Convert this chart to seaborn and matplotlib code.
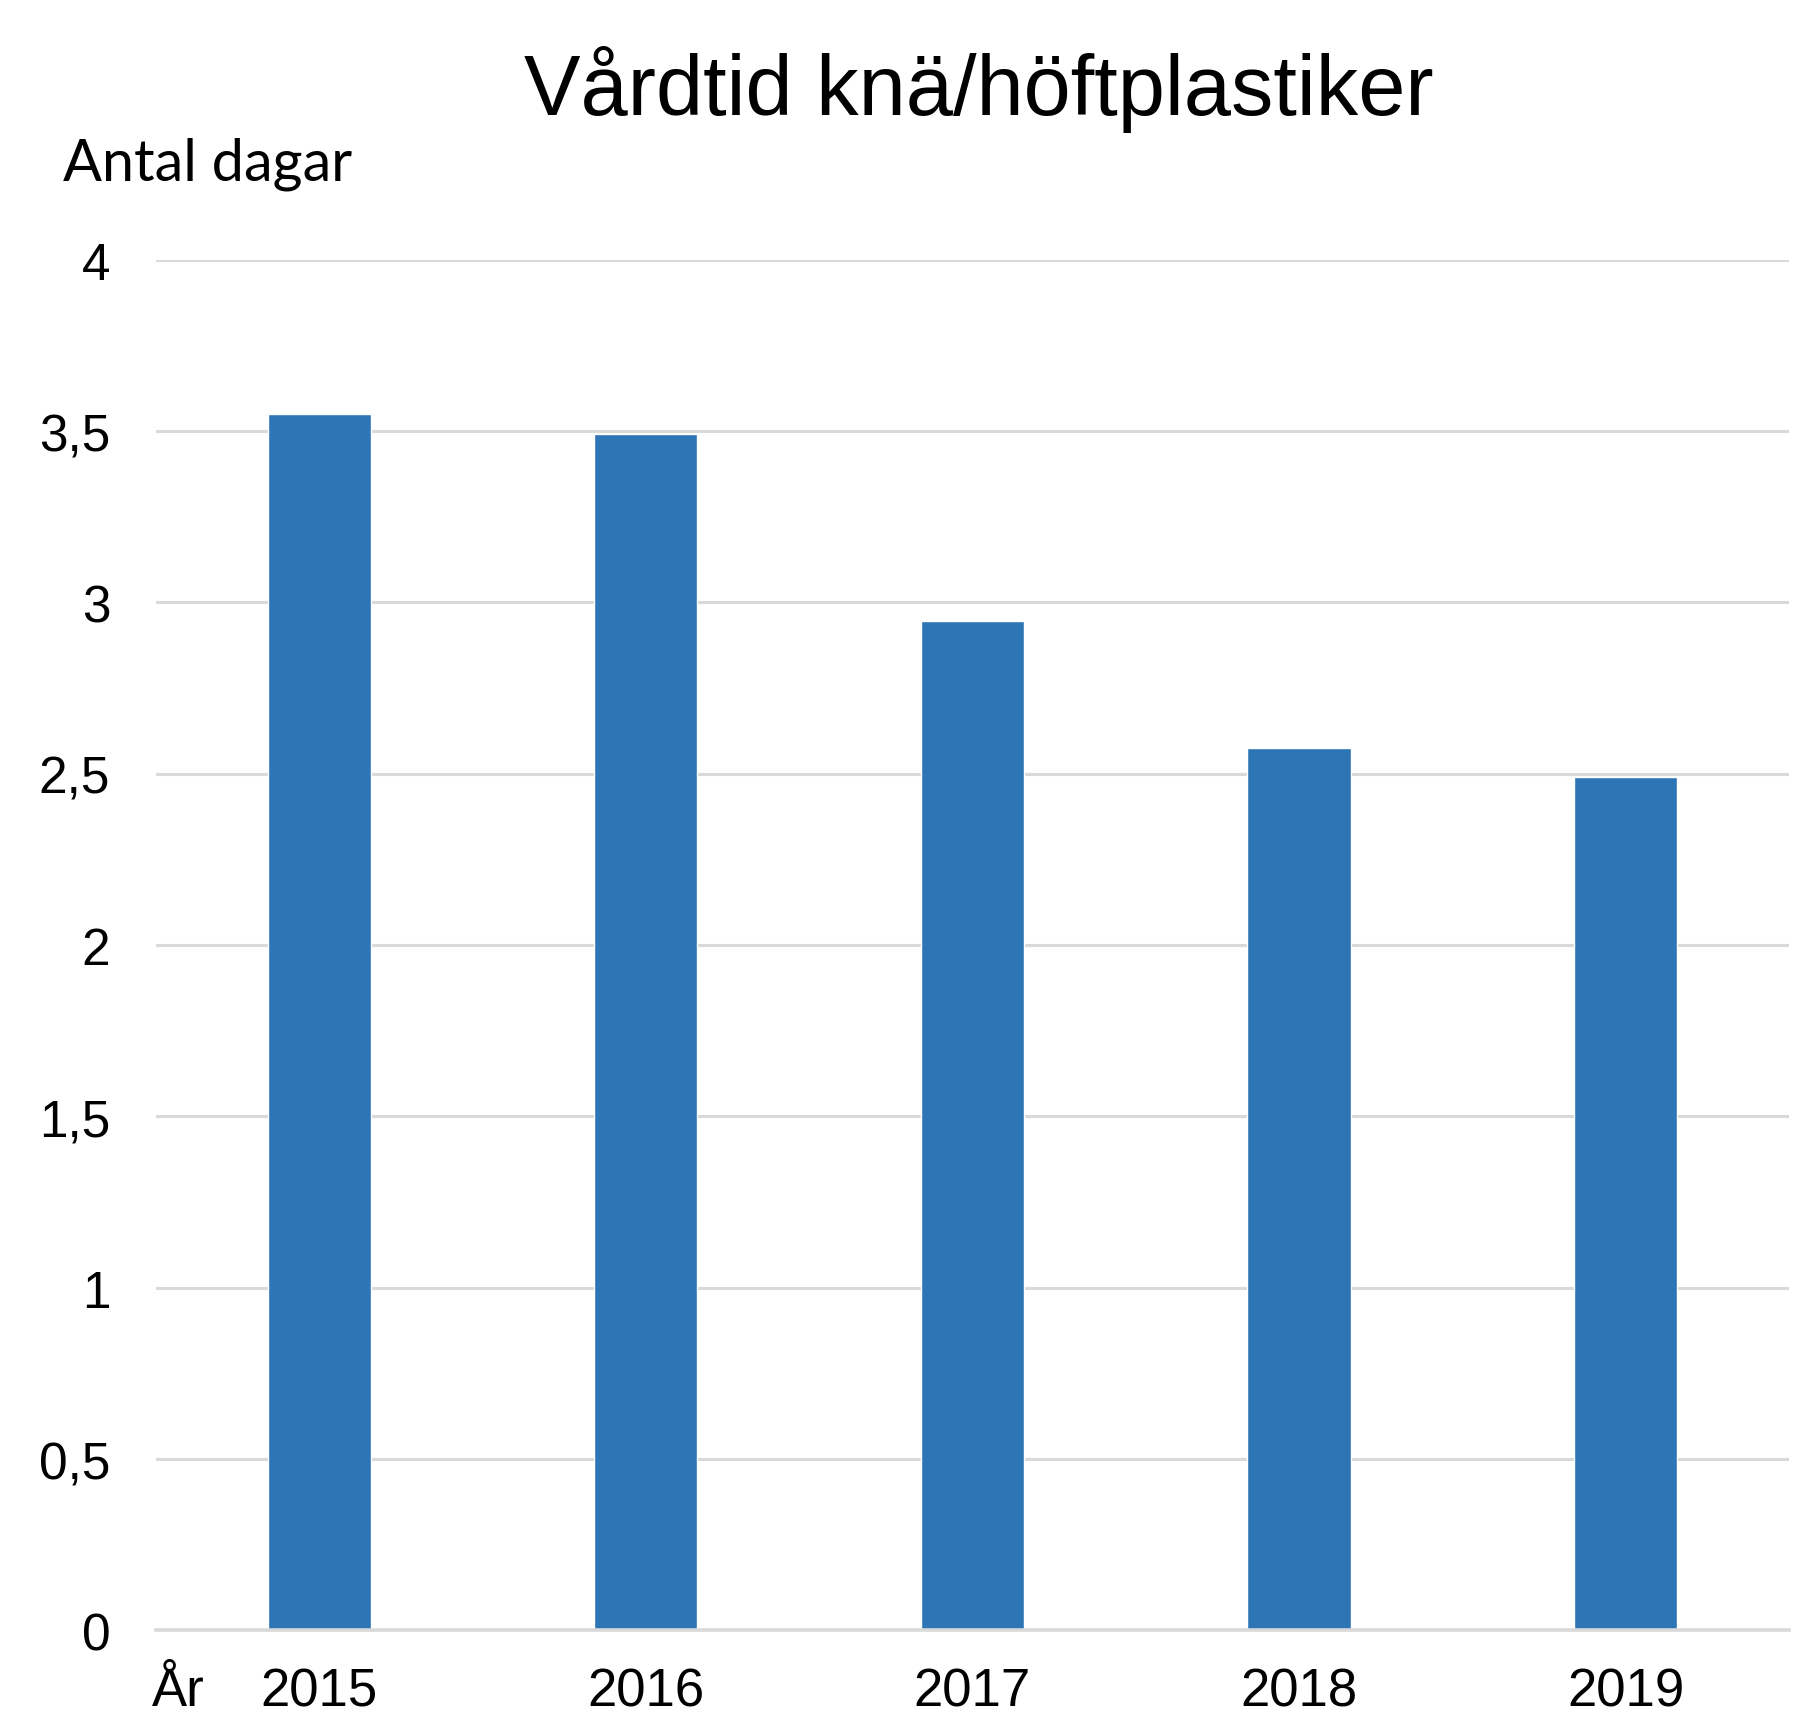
import pandas as pd
import matplotlib
matplotlib.use("Agg")
import matplotlib.pyplot as plt
import seaborn as sns

# data
years = ["2015", "2016", "2017", "2018", "2019"]
days = [3.55, 3.49, 2.945, 2.575, 2.49]
ytick_vals = [0, 0.5, 1, 1.5, 2, 2.5, 3, 3.5, 4]
ytick_labels = ["0", "0,5", "1", "1,5", "2", "2,5", "3", "3,5", "4"]

df = pd.DataFrame({"year": years, "days": days})

sns.set_style("white")
plt.rcParams["font.family"] = ["Liberation Sans", "DejaVu Sans"]
plt.rcParams["text.color"] = "black"
plt.rcParams["xtick.color"] = "black"
plt.rcParams["ytick.color"] = "black"

fig = plt.figure(figsize=(17.96, 17.15), dpi=100)
ax = fig.add_axes([0.0869, 0.0487, 0.9091, 0.7993])

sns.barplot(data=df, x="year", y="days", color="#2E75B6", saturation=1,
            width=0.316, ax=ax, zorder=3)

ax.set_xlim(-0.5, 4.5)
ax.set_ylim(0, 4)
ax.set_yticks(ytick_vals)
ax.set_yticklabels(ytick_labels)
ax.grid(axis="y", color="#d9d9d9", linewidth=2.2, zorder=0)
ax.set_axisbelow(True)
for s in ["top", "right", "left"]:
    ax.spines[s].set_visible(False)
ax.spines["bottom"].set_color("#d9d9d9")
ax.spines["bottom"].set_linewidth(2.6)
ax.spines["bottom"].set_zorder(4)
ax.tick_params(axis="y", length=0, pad=33, labelsize=37, labelcolor="black")
ax.tick_params(axis="x", length=0, pad=26, labelsize=38, labelcolor="black")
ax.set_xlabel("")
ax.set_ylabel("")

fig.text(0.545, 0.948, "Vårdtid knä/höftplastiker", ha="center", va="center",
         fontsize=61, color="black")
fig.text(0.035, 0.904, "Antal dagar", ha="left", va="center", fontsize=41.5,
         family=["Lato", "DejaVu Sans"], color="black")
fig.text(0.0846, 0.0135, "År", ha="left", va="center", fontsize=38,
         color="black")

plt.savefig("out.png", dpi=100)
